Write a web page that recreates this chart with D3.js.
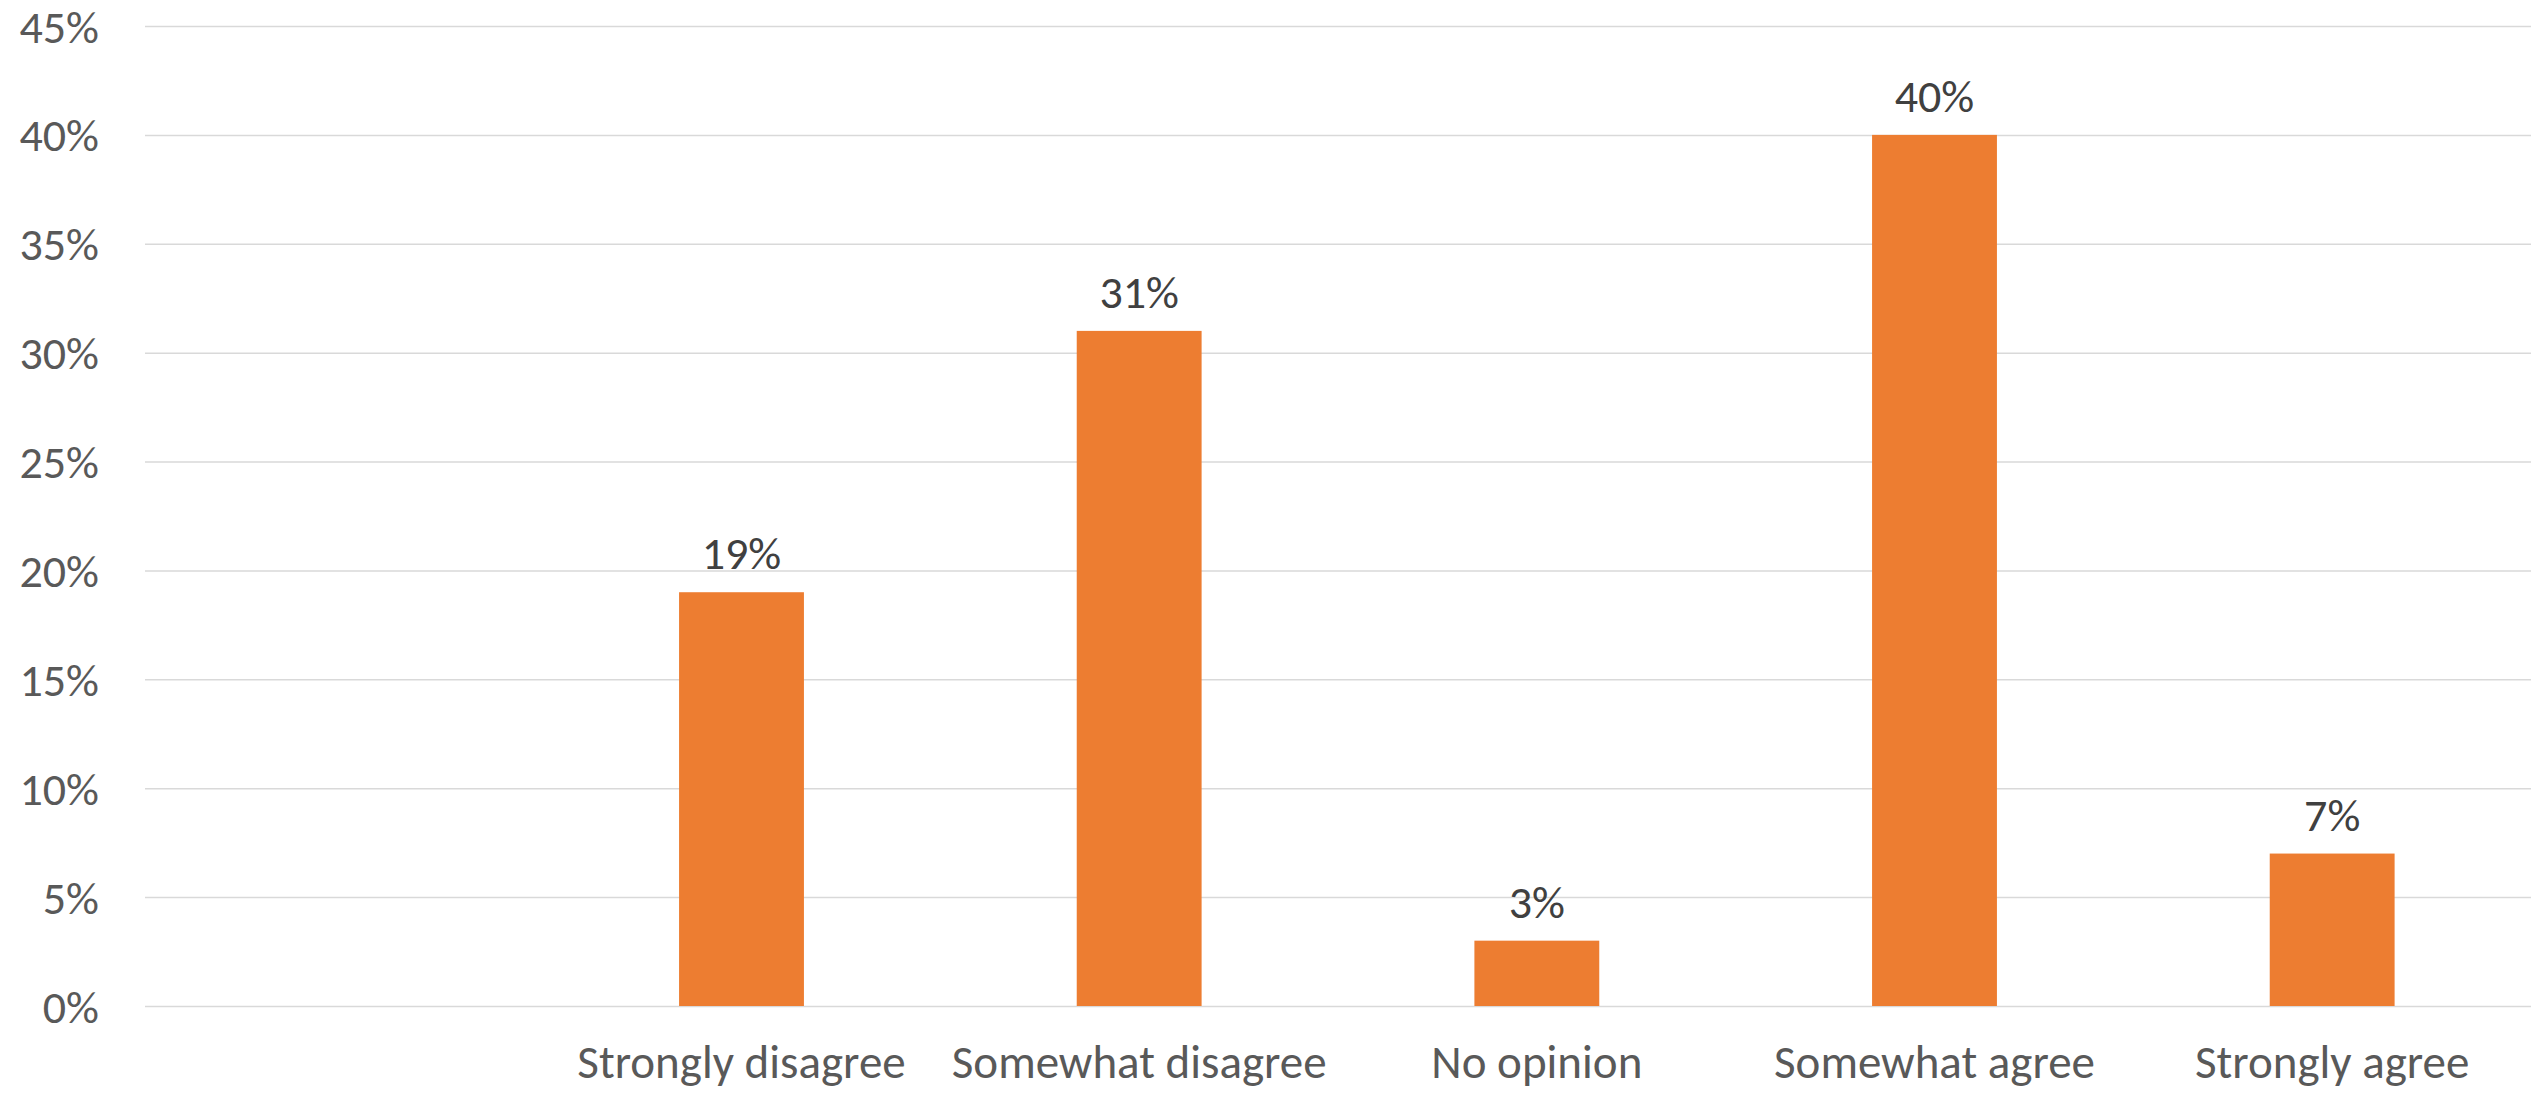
<!DOCTYPE html>
<html>
<head>
<meta charset="utf-8">
<script src="https://cdn.jsdelivr.net/npm/d3@7"></script>
<style>
      body { margin: 0; background: #fff; }
</style>
</head>
<body>
<script>
// survey responses, share of respondents
const categories = ["", "Strongly disagree", "Somewhat disagree", "No opinion", "Somewhat agree", "Strongly agree"];
const values = [null, 0.19, 0.31, 0.03, 0.40, 0.07];
const yTicks = [0, 0.05, 0.10, 0.15, 0.20, 0.25, 0.30, 0.35, 0.40, 0.45];

const width = 2531;
const height = 1093;
const marginLeft = 145;
const marginRight = 0;
const yBottom = 1006;
const yTop = 26;
const font = "Calibri, Carlito, Lato, sans-serif";
const fontSize = 46;
const catFontSize = 47;

const xScale = d3.scaleBand()
      .domain(categories)
      .range([marginLeft, width - marginRight])
      .paddingInner(0.686)
      .paddingOuter(0.343);

const yScale = d3.scaleLinear()
      .domain([0, 0.45])
      .range([yBottom, yTop]);

const svg = d3.create("svg")
      .attr("width", width)
      .attr("height", height)
      .attr("viewBox", [0, 0, width, height])
      .attr("font-family", font);

// y axis + gridlines
svg.append("g")
      .attr("transform", `translate(${marginLeft},0)`)
      .call(d3.axisLeft(yScale).tickValues(yTicks).tickFormat(d3.format(".0%")).tickSize(0).tickPadding(46))
      .call(g => g.select(".domain").remove())
      .call(g => g.selectAll(".tick line").clone()
            .attr("x2", width - marginLeft - marginRight)
            .attr("stroke", "#D9D9D9")
            .attr("stroke-width", 1.5))
      .call(g => g.selectAll(".tick text")
            .attr("font-family", font)
            .attr("font-size", fontSize)
            .attr("fill", "#595959")
            .attr("dy", "0.35em"));

// x axis labels
svg.append("g")
      .attr("transform", `translate(0,${yBottom})`)
      .call(d3.axisBottom(xScale).tickSize(0).tickPadding(0))
      .call(g => g.select(".domain").remove())
      .call(g => g.selectAll(".tick text")
            .attr("font-family", font)
            .attr("font-size", catFontSize)
            .attr("fill", "#595959")
            .attr("y", 72)
            .attr("dy", 0));

const data = categories.map((c, i) => ({c, v: values[i]})).filter(d => d.v != null);

// bars
svg.append("g")
      .attr("fill", "#ED7D31")
      .selectAll("rect")
      .data(data)
      .join("rect")
      .attr("x", d => xScale(d.c))
      .attr("width", xScale.bandwidth())
      .attr("y", d => yScale(d.v))
      .attr("height", d => yBottom - yScale(d.v));

// data labels
svg.append("g")
      .attr("font-size", fontSize)
      .attr("fill", "#404040")
      .attr("text-anchor", "middle")
      .selectAll("text")
      .data(data)
      .join("text")
      .attr("x", d => xScale(d.c) + xScale.bandwidth() / 2)
      .attr("y", d => yScale(d.v) - 23)
      .text(d => d3.format(".0%")(d.v));

document.body.appendChild(svg.node());
</script>
</body>
</html>
